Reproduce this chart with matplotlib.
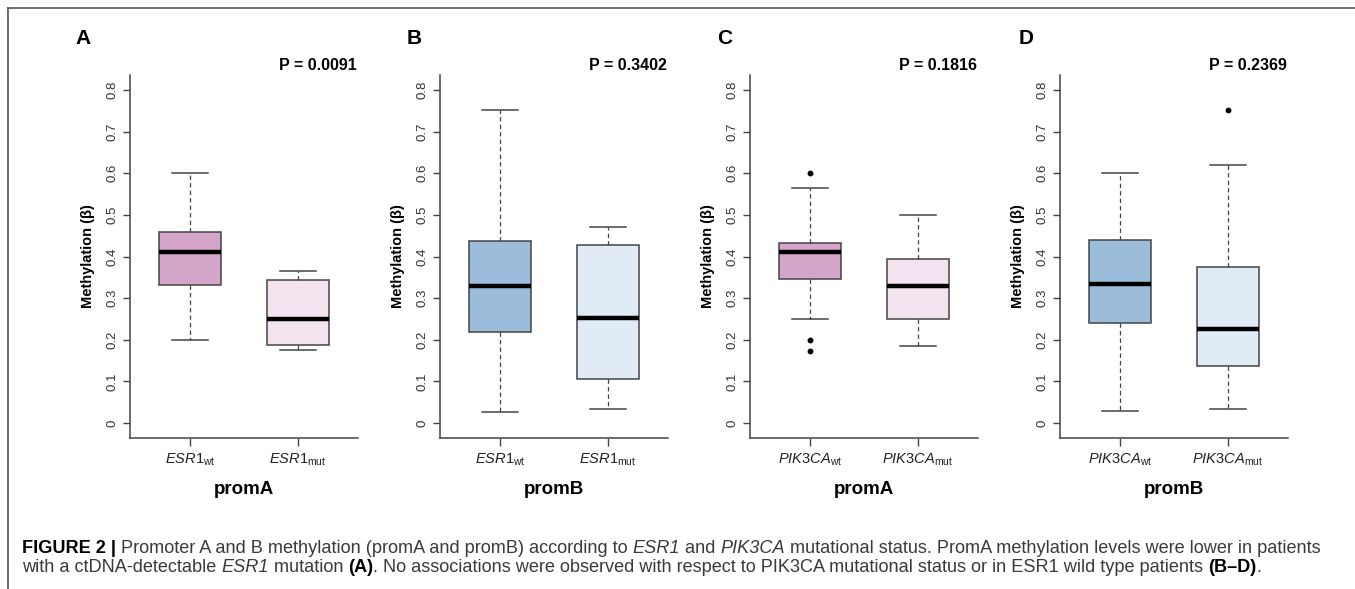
import matplotlib
matplotlib.use("Agg")
import matplotlib.pyplot as plt
from matplotlib.lines import Line2D

# ---------------- data ----------------
panel_letters = ["A", "B", "C", "D"]
genes = ["ESR1", "ESR1", "PIK3CA", "PIK3CA"]
promoters = ["promA", "promB", "promA", "promB"]
p_values = ["0.0091", "0.3402", "0.1816", "0.2369"]
groups = ["wt", "mut"]

wt_whislo = [0.200, 0.027, 0.250, 0.028]
wt_q1 = [0.331, 0.219, 0.346, 0.241]
wt_med = [0.410, 0.330, 0.410, 0.335]
wt_q3 = [0.458, 0.437, 0.433, 0.439]
wt_whishi = [0.600, 0.751, 0.565, 0.600]
wt_fliers = [[], [], [0.600, 0.199, 0.174], []]

mut_whislo = [0.175, 0.034, 0.184, 0.034]
mut_q1 = [0.187, 0.106, 0.250, 0.136]
mut_med = [0.250, 0.253, 0.330, 0.225]
mut_q3 = [0.343, 0.428, 0.394, 0.374]
mut_whishi = [0.365, 0.470, 0.500, 0.620]
mut_fliers = [[], [], [], [0.751]]

y_ticks = [0, 0.1, 0.2, 0.3, 0.4, 0.5, 0.6, 0.7, 0.8]
y_ticklabels = ["0", "0.1", "0.2", "0.3", "0.4", "0.5", "0.6", "0.7", "0.8"]

wt_colors = ["#D4A5C9", "#9BBDDB", "#D4A5C9", "#9BBDDB"]
mut_colors = ["#F4E4EF", "#E1EBF5", "#F4E4EF", "#E1EBF5"]

caption_line1 = [
    ("FIGURE 2 | ", "bold", "normal"),
    ("Promoter A and B methylation (promA and promB) according to ", "normal", "normal"),
    ("ESR1", "normal", "italic"),
    (" and ", "normal", "normal"),
    ("PIK3CA", "normal", "italic"),
    (" mutational status. PromA methylation levels were lower in patients", "normal", "normal"),
]
caption_line2 = [
    ("with a ctDNA-detectable ", "normal", "normal"),
    ("ESR1", "normal", "italic"),
    (" mutation ", "normal", "normal"),
    ("(A)", "bold", "normal"),
    (". No associations were observed with respect to PIK3CA mutational status or in ESR1 wild type patients ", "normal", "normal"),
    ("(B\u2013D)", "bold", "normal"),
    (".", "normal", "normal"),
]

# ---------------- style ----------------
FAM = ["Liberation Sans", "DejaVu Sans"]
plt.rcParams["font.family"] = FAM
plt.rcParams["mathtext.fontset"] = "custom"
plt.rcParams["mathtext.rm"] = "Liberation Sans"
plt.rcParams["mathtext.it"] = "Liberation Sans:italic"
plt.rcParams["mathtext.bf"] = "Liberation Sans:bold"

W, H = 1355, 589
fig = plt.figure(figsize=(W / 100, H / 100), dpi=100)
fig.patch.set_facecolor("white")

AXC = "#444444"
ax_left_px = [130, 440, 750, 1060]
letter_px = [75, 407, 717, 1019]
ax_w_px, ax_top_px, ax_bot_px = 228, 75, 438
ax_h_px = ax_bot_px - ax_top_px

for i in range(4):
    ax = fig.add_axes([ax_left_px[i] / W, (H - ax_bot_px) / H,
                       ax_w_px / W, ax_h_px / H])
    stats = [
        dict(whislo=wt_whislo[i], q1=wt_q1[i], med=wt_med[i], q3=wt_q3[i],
             whishi=wt_whishi[i], fliers=wt_fliers[i]),
        dict(whislo=mut_whislo[i], q1=mut_q1[i], med=mut_med[i], q3=mut_q3[i],
             whishi=mut_whishi[i], fliers=mut_fliers[i]),
    ]
    bp = ax.bxp(stats, positions=[1, 2], widths=0.583, capwidths=0.34,
                patch_artist=True, showfliers=True,
                boxprops=dict(edgecolor=AXC, linewidth=1.1),
                medianprops=dict(color="black", linewidth=3.2, solid_capstyle="butt"),
                whiskerprops=dict(color=AXC, linewidth=0.9, linestyle=(0, (3.5, 2.5))),
                capprops=dict(color=AXC, linewidth=1.1),
                flierprops=dict(marker="o", markersize=3.2, markerfacecolor="black",
                                markeredgecolor="black", linestyle="none"))
    bp["boxes"][0].set_facecolor(wt_colors[i])
    bp["boxes"][1].set_facecolor(mut_colors[i])

    ax.set_xlim(0.444, 2.556)
    ax.set_ylim(-0.036, 0.836)
    for s in ["top", "right"]:
        ax.spines[s].set_visible(False)
    for s in ["left", "bottom"]:
        ax.spines[s].set_color(AXC)
        ax.spines[s].set_linewidth(1.1)

    ax.set_yticks(y_ticks)
    ax.set_yticklabels(y_ticklabels, rotation=90, va="center", fontsize=9.5,
                       color="#333333")
    ax.tick_params(axis="y", length=5, width=1.0, color=AXC, pad=3)

    g = genes[i]
    ax.set_xticks([1, 2])
    ax.set_xticklabels([r"$\mathit{%s}_{\mathrm{%s}}$" % (g, grp) for grp in groups],
                       fontsize=10.5, color="#222222")
    ax.tick_params(axis="x", length=6, width=1.0, color=AXC, pad=4)

    ax.set_ylabel("Methylation (\u03b2)", fontsize=10.5, fontweight="bold")
    ax.yaxis.set_label_coords(-42 / ax_w_px, 0.5)
    ax.yaxis.label.set_va("center")
    ax.set_xlabel(promoters[i], fontsize=13.5, fontweight="bold")
    ax.xaxis.set_label_coords(0.5, (ax_bot_px - 489) / ax_h_px)
    ax.xaxis.label.set_va("center")

    ax.text(227 / ax_w_px, (ax_bot_px - 65) / ax_h_px,
            "P = " + p_values[i], transform=ax.transAxes, ha="right", va="center",
            fontsize=11.5, fontweight="bold")
    fig.text(letter_px[i] / W, 1 - 38 / H, panel_letters[i], ha="left", va="center",
             fontsize=15, fontweight="bold")

# frame lines (left and top)
fig.add_artist(Line2D([8 / W, 8 / W], [0, 1 - 8 / H], transform=fig.transFigure,
                      color="#555555", linewidth=1.2))
fig.add_artist(Line2D([8 / W, 1], [1 - 8 / H, 1 - 8 / H], transform=fig.transFigure,
                      color="#555555", linewidth=1.2))

# ---------------- caption ----------------
renderer = fig.canvas.get_renderer()
CAPC = "#3a3a3a"


def run_width(txt, weight, style, fs):
    t1 = fig.text(0, 0, "x" + txt + "x", fontsize=fs, fontweight=weight, fontstyle=style)
    t2 = fig.text(0, 0, "xx", fontsize=fs, fontweight=weight, fontstyle=style)
    w = t1.get_window_extent(renderer).width - t2.get_window_extent(renderer).width
    t1.remove()
    t2.remove()
    return w


def draw_line(runs, x0, ypx, fs):
    x = x0
    for txt, weight, style in runs:
        col = "black" if weight == "bold" else CAPC
        fig.text(x / W, 1 - ypx / H, txt, fontsize=fs, fontweight=weight,
                 fontstyle=style, color=col, ha="left", va="baseline")
        x += run_width(txt, weight, style, fs)
    return x


trial = 10.0
tot = sum(run_width(t, w, s, trial) for t, w, s in caption_line1)
fs_cap = trial * (1324 - 22) / tot
draw_line(caption_line1, 22, 553, fs_cap)
draw_line(caption_line2, 22, 572, fs_cap)

fig.savefig("out.png", dpi=100, facecolor="white")
